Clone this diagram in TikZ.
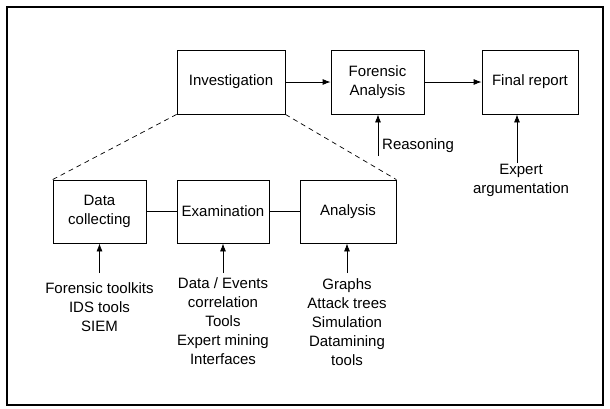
\documentclass[tikz,border=0pt]{standalone}
\usepackage{fontspec}
\setmainfont{Liberation Sans}
\usetikzlibrary{arrows.meta}
\begin{document}
\begin{tikzpicture}[x=1pt,y=-1pt,
  every node/.style={font=\fontsize{15}{19}\selectfont, align=center},
  box/.style={draw, line width=0.8pt, inner sep=0pt},
  link/.style={line width=0.8pt},
  arr/.style={line width=0.8pt, -{Latex[length=8pt,width=6pt]}},
  dashline/.style={line width=0.7pt, dash pattern=on 5pt off 4pt},
  lbl/.style={inner sep=0pt}]
\useasboundingbox (0,0) rectangle (610,408);
\draw[line width=2pt] (7,7) rectangle (603,405);
% top row
\node[box, minimum width=108pt, minimum height=64pt] (inv) at (231,82) {Investigation};
\node[box, minimum width=93pt, minimum height=64pt] (fa) at (377.5,82) {Forensic\\Analysis};
\node[box, minimum width=96pt, minimum height=64pt] (fr) at (530,82) {Final report};
% bottom row
\node[box, minimum width=93pt, minimum height=63pt] (dc) at (99.5,211.5) {Data\\collecting};
\node[box, minimum width=92pt, minimum height=63pt] (ex) at (223,211.5) {Examination};
\node[box, minimum width=96pt, minimum height=63pt] (an) at (348,211.5) {Analysis};
% connectors
\draw[arr] (inv.east) -- (fa.west);
\draw[arr] (fa.east) -- (fr.west);
\draw[link] (dc.east) -- (ex.west);
\draw[link] (ex.east) -- (an.west);
\draw[dashline] (inv.south west) -- (dc.north west);
\draw[dashline] (inv.south east) -- (an.north east);
% labels
\node[lbl, anchor=west] (rs) at (382,146) {Reasoning};
\coordinate (rsb) at (378,156);
\draw[arr] (rsb) -- (rsb |- fa.south);
\node[lbl] (ea) at (521,180) {Expert\\argumentation};
\coordinate (eat) at (517,163);
\draw[arr] (eat) -- (eat |- fr.south);
\node[lbl, anchor=north] (dct) at (99.5,282.7) {Forensic toolkits\\IDS tools\\SIEM};
\node[lbl, anchor=north] (ext) at (223,277.7) {Data / Events\\correlation\\Tools\\Expert mining\\Interfaces};
\node[lbl, anchor=north] (ant) at (347,278) {Graphs\\Attack trees\\Simulation\\Datamining\\tools};
\coordinate (dca) at (99.5,273);
\coordinate (exa) at (223,273);
\coordinate (ana) at (347,273);
\draw[arr] (dca) -- (dc.south);
\draw[arr] (exa) -- (ex.south);
\draw[arr] (ana) -- (ana |- an.south);
\end{tikzpicture}
\end{document}
